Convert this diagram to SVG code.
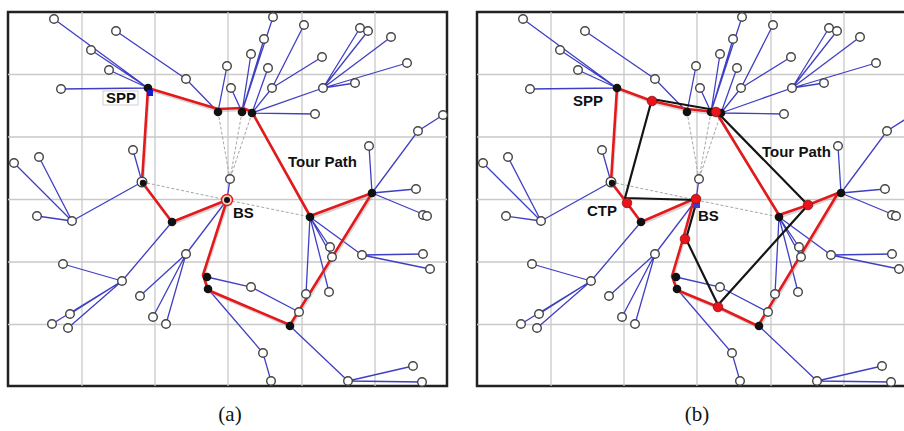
<svg xmlns="http://www.w3.org/2000/svg" xmlns:xlink="http://www.w3.org/1999/xlink" width="904" height="431" viewBox="0 0 904 431">
<style>
.f{fill:#fff;stroke:#222;stroke-width:2.5}
.g{stroke:#c9c9c9;stroke-width:1.3;fill:none}
.e{stroke:#3f3fc4;stroke-width:1.3;fill:none}
.d{stroke:#a6a6a6;stroke-width:1;stroke-dasharray:3 2;fill:none}
.sh{stroke:#9a9a9a;stroke-width:2.4;fill:none;opacity:.4;stroke-linejoin:round}
.r{stroke:#e3191b;stroke-width:2.6;fill:none;stroke-linejoin:round}
.k{stroke:#141414;stroke-width:2.2;fill:none;stroke-linejoin:round}
.s{fill:#fff;stroke:#444;stroke-width:1.4}
.h{fill:#111}
.rd{fill:#e8131b;stroke:#8a1010;stroke-width:.8}
.t{font-family:"Liberation Sans",Arial,sans-serif;font-weight:bold;font-size:15px;fill:#111}
.cap{font-family:"Liberation Serif","Times New Roman",serif;font-size:21px;fill:#111;text-anchor:middle}
</style>
<rect width="904" height="431" fill="#fff"/>

<!-- ================= PANEL A ================= -->
<g id="panel-a">
<rect class="f" x="8" y="12" width="439" height="374"/>
<path class="g" d="M82 12V386M155 12V386M228 12V386M302 12V386M375 12V386M8 74.5H447M8 137H447M8 199.5H447M8 262H447M8 324.5H447"/>
<g id="a-links">
<path class="d" d="M218 112L230 179M242 112L230 179M252 113L230 179M142 182L227 200M227 200L310 217"/>
<path class="e" d="M54 19L148 88M91 50L148 88M109 70L148 88M61 89L148 88M116 31L186 79L218 112M227 66L218 112M273 17L242 112M264 39L242 112M251 54L242 112M231 88L242 112M304 25L272 88M322 57L272 88M272 88L252 113M268 68L252 113M360 28L323 88M368 31L323 88M391 37L323 88M407 63L323 88M355 83L323 88M323 88L252 113M315 114L252 113M443 115L418 131L372 193M369 146L372 193M416 189L372 193M372 193L425 215M133 150L142 182M14 163L72 221M39 157L72 221M37 216L72 221M72 221L142 182M63 264L122 281M122 281L172 222M70 314L122 281M52 324L122 281M68 328L122 281M140 296L186 254M153 317L186 254M166 324L186 254M186 254L227 200M230 179L227 200M310 217L330 247M310 217L332 257M310 217L329 292M310 217L306 294M310 217L362 255M362 255L423 254M362 255L430 269M207 277L251 287L299 312M208 289L263 353L271 381M290 326L348 381M348 381L413 366M348 381L422 382"/>
<path class="sh" d="M149 90L219 111L244 110L253 114L311 218L373 195L291 327L209 292L204 276L228 202L173 224L143 184Z"/>
<path class="r" d="M148 88L218 109L243 108L252 112L310 216L372 193L290 325L208 290L203 275L227 200L172 222L142 182Z"/>
</g>
<g id="a-nodes">
<g id="a-s1"><circle class="s" cx="54" cy="19" r="4.3"/></g>
<g id="a-s2"><circle class="s" cx="116" cy="31" r="4.3"/></g>
<g id="a-s3"><circle class="s" cx="91" cy="50" r="4.3"/></g>
<g id="a-s4"><circle class="s" cx="109" cy="70" r="4.3"/></g>
<g id="a-s5"><circle class="s" cx="61" cy="89" r="4.3"/></g>
<g id="a-s6"><circle class="s" cx="186" cy="79" r="4.3"/></g>
<g id="a-s7"><circle class="s" cx="133" cy="150" r="4.3"/></g>
<g id="a-s8"><circle class="s" cx="14" cy="163" r="4.3"/></g>
<g id="a-s9"><circle class="s" cx="39" cy="157" r="4.3"/></g>
<g id="a-s10"><circle class="s" cx="37" cy="216" r="4.3"/></g>
<g id="a-s11"><circle class="s" cx="72" cy="221" r="4.3"/></g>
<g id="a-s12"><circle class="s" cx="63" cy="264" r="4.3"/></g>
<g id="a-s13"><circle class="s" cx="122" cy="281" r="4.3"/></g>
<g id="a-s14"><circle class="s" cx="70" cy="314" r="4.3"/></g>
<g id="a-s15"><circle class="s" cx="52" cy="324" r="4.3"/></g>
<g id="a-s16"><circle class="s" cx="68" cy="328" r="4.3"/></g>
<g id="a-s17"><circle class="s" cx="140" cy="296" r="4.3"/></g>
<g id="a-s18"><circle class="s" cx="186" cy="254" r="4.3"/></g>
<g id="a-s19"><circle class="s" cx="153" cy="317" r="4.3"/></g>
<g id="a-s20"><circle class="s" cx="166" cy="324" r="4.3"/></g>
<g id="a-s21"><circle class="s" cx="273" cy="17" r="4.3"/></g>
<g id="a-s22"><circle class="s" cx="304" cy="25" r="4.3"/></g>
<g id="a-s23"><circle class="s" cx="360" cy="28" r="4.3"/></g>
<g id="a-s24"><circle class="s" cx="368" cy="31" r="4.3"/></g>
<g id="a-s25"><circle class="s" cx="391" cy="37" r="4.3"/></g>
<g id="a-s26"><circle class="s" cx="264" cy="39" r="4.3"/></g>
<g id="a-s27"><circle class="s" cx="251" cy="54" r="4.3"/></g>
<g id="a-s28"><circle class="s" cx="322" cy="57" r="4.3"/></g>
<g id="a-s29"><circle class="s" cx="268" cy="68" r="4.3"/></g>
<g id="a-s30"><circle class="s" cx="227" cy="66" r="4.3"/></g>
<g id="a-s31"><circle class="s" cx="407" cy="63" r="4.3"/></g>
<g id="a-s32"><circle class="s" cx="231" cy="88" r="4.3"/></g>
<g id="a-s33"><circle class="s" cx="272" cy="88" r="4.3"/></g>
<g id="a-s34"><circle class="s" cx="323" cy="88" r="4.3"/></g>
<g id="a-s35"><circle class="s" cx="355" cy="83" r="4.3"/></g>
<g id="a-s36"><circle class="s" cx="315" cy="114" r="4.3"/></g>
<g id="a-s37"><circle class="s" cx="443" cy="115" r="4.3"/></g>
<g id="a-s38"><circle class="s" cx="418" cy="131" r="4.3"/></g>
<g id="a-s39"><circle class="s" cx="369" cy="146" r="4.3"/></g>
<g id="a-s40"><circle class="s" cx="416" cy="189" r="4.3"/></g>
<g id="a-s41"><circle class="s" cx="230" cy="179" r="4.3"/></g>
<g id="a-s42"><circle class="s" cx="423" cy="215" r="4.3"/></g>
<g id="a-s43"><circle class="s" cx="427" cy="216" r="4.3"/></g>
<g id="a-s44"><circle class="s" cx="330" cy="247" r="4.3"/></g>
<g id="a-s45"><circle class="s" cx="332" cy="257" r="4.3"/></g>
<g id="a-s46"><circle class="s" cx="362" cy="255" r="4.3"/></g>
<g id="a-s47"><circle class="s" cx="423" cy="254" r="4.3"/></g>
<g id="a-s48"><circle class="s" cx="430" cy="269" r="4.3"/></g>
<g id="a-s49"><circle class="s" cx="251" cy="287" r="4.3"/></g>
<g id="a-s50"><circle class="s" cx="306" cy="294" r="4.3"/></g>
<g id="a-s51"><circle class="s" cx="329" cy="292" r="4.3"/></g>
<g id="a-s52"><circle class="s" cx="299" cy="312" r="4.3"/></g>
<g id="a-s53"><circle class="s" cx="263" cy="353" r="4.3"/></g>
<g id="a-s54"><circle class="s" cx="271" cy="381" r="4.3"/></g>
<g id="a-s55"><circle class="s" cx="348" cy="381" r="4.3"/></g>
<g id="a-s56"><circle class="s" cx="413" cy="366" r="4.3"/></g>
<g id="a-s57"><circle class="s" cx="422" cy="382" r="4.3"/></g>
<g id="a-spp"><circle class="h" cx="148" cy="88" r="4.3"/><rect x="147" y="90" width="6" height="6" fill="#1a1ad0"/></g>
<g id="a-h1"><circle class="h" cx="218" cy="112" r="4.3"/></g>
<g id="a-h2"><circle class="h" cx="242" cy="112" r="4.3"/></g>
<g id="a-h3"><circle class="h" cx="252" cy="113" r="4.3"/></g>
<g id="a-ch"><circle class="s" cx="142" cy="182" r="4.8"/><circle class="h" cx="143" cy="183" r="3.2"/></g>
<g id="a-bs"><circle cx="227" cy="200" r="5.5" fill="#f4d0c8" stroke="#e3191b" stroke-width="1.4"/><circle class="h" cx="227" cy="200" r="3"/></g>
<g id="a-h4"><circle class="h" cx="172" cy="222" r="4.3"/></g>
<g id="a-h5"><circle class="h" cx="310" cy="217" r="4.3"/></g>
<g id="a-h6"><circle class="h" cx="372" cy="193" r="4.3"/></g>
<g id="a-h7"><circle class="h" cx="207" cy="277" r="4.3"/></g>
<g id="a-h8"><circle class="h" cx="208" cy="289" r="4.3"/></g>
<g id="a-h9"><circle class="h" cx="290" cy="326" r="4.3"/></g>
</g>
<g id="a-labels">
<rect x="103" y="91" width="35" height="14" fill="#fff" stroke="#d0d0d0" stroke-width="1"/>
<text class="t" x="106" y="103">SPP</text>
<text class="t" x="288" y="167">Tour Path</text>
<text class="t" x="233" y="218">BS</text>
</g>
</g>

<!-- ================= PANEL B ================= -->
<g id="panel-b" transform="translate(469 0)">
<rect class="f" x="8" y="12" width="439" height="374"/>
<path class="g" d="M82 12V386M155 12V386M228 12V386M302 12V386M375 12V386M8 74.5H447M8 137H447M8 199.5H447M8 262H447M8 324.5H447"/>
<g id="b-links">
<path class="d" d="M218 112L230 179M242 112L230 179M252 113L230 179M142 182L227 200M227 200L310 217"/>
<path class="e" d="M54 19L148 88M91 50L148 88M109 70L148 88M61 89L148 88M116 31L186 79L218 112M227 66L218 112M273 17L242 112M264 39L242 112M251 54L242 112M231 88L242 112M304 25L272 88M322 57L272 88M272 88L252 113M268 68L252 113M360 28L323 88M368 31L323 88M391 37L323 88M407 63L323 88M355 83L323 88M323 88L252 113M315 114L252 113M443 115L418 131L372 193M369 146L372 193M416 189L372 193M372 193L425 215M133 150L142 182M14 163L72 221M39 157L72 221M37 216L72 221M72 221L142 182M63 264L122 281M122 281L172 222M70 314L122 281M52 324L122 281M68 328L122 281M140 296L186 254M153 317L186 254M166 324L186 254M186 254L227 200M230 179L227 200M310 217L330 247M310 217L332 257M310 217L329 292M310 217L306 294M310 217L362 255M362 255L423 254M362 255L430 269M207 277L251 287L299 312M208 289L263 353L271 381M290 326L348 381M348 381L413 366M348 381L422 382"/>
<path class="sh" d="M149 90L184 103L219 111L248 114L311 217L340 207L370 195L290 328L250 309L209 292L204 278L215 241L227 201L173 224L159 205L143 184Z"/>
<path class="r" d="M148 88L183 101L218 109L247 112L310 215L339 205L369 193L289 326L249 307L208 290L203 276L214 239L225 199L172 222L158 203L142 182Z"/>
<path class="k" d="M183 99L246 110L339 205L249 305L217 239L228 200L156 198Z"/>
</g>
<g id="b-nodes">
<g id="b-s1"><circle class="s" cx="54" cy="19" r="4.3"/></g>
<g id="b-s2"><circle class="s" cx="116" cy="31" r="4.3"/></g>
<g id="b-s3"><circle class="s" cx="91" cy="50" r="4.3"/></g>
<g id="b-s4"><circle class="s" cx="109" cy="70" r="4.3"/></g>
<g id="b-s5"><circle class="s" cx="61" cy="89" r="4.3"/></g>
<g id="b-s6"><circle class="s" cx="186" cy="79" r="4.3"/></g>
<g id="b-s7"><circle class="s" cx="133" cy="150" r="4.3"/></g>
<g id="b-s8"><circle class="s" cx="14" cy="163" r="4.3"/></g>
<g id="b-s9"><circle class="s" cx="39" cy="157" r="4.3"/></g>
<g id="b-s10"><circle class="s" cx="37" cy="216" r="4.3"/></g>
<g id="b-s11"><circle class="s" cx="72" cy="221" r="4.3"/></g>
<g id="b-s12"><circle class="s" cx="63" cy="264" r="4.3"/></g>
<g id="b-s13"><circle class="s" cx="122" cy="281" r="4.3"/></g>
<g id="b-s14"><circle class="s" cx="70" cy="314" r="4.3"/></g>
<g id="b-s15"><circle class="s" cx="52" cy="324" r="4.3"/></g>
<g id="b-s16"><circle class="s" cx="68" cy="328" r="4.3"/></g>
<g id="b-s17"><circle class="s" cx="140" cy="296" r="4.3"/></g>
<g id="b-s18"><circle class="s" cx="186" cy="254" r="4.3"/></g>
<g id="b-s19"><circle class="s" cx="153" cy="317" r="4.3"/></g>
<g id="b-s20"><circle class="s" cx="166" cy="324" r="4.3"/></g>
<g id="b-s21"><circle class="s" cx="273" cy="17" r="4.3"/></g>
<g id="b-s22"><circle class="s" cx="304" cy="25" r="4.3"/></g>
<g id="b-s23"><circle class="s" cx="360" cy="28" r="4.3"/></g>
<g id="b-s24"><circle class="s" cx="368" cy="31" r="4.3"/></g>
<g id="b-s25"><circle class="s" cx="391" cy="37" r="4.3"/></g>
<g id="b-s26"><circle class="s" cx="264" cy="39" r="4.3"/></g>
<g id="b-s27"><circle class="s" cx="251" cy="54" r="4.3"/></g>
<g id="b-s28"><circle class="s" cx="322" cy="57" r="4.3"/></g>
<g id="b-s29"><circle class="s" cx="268" cy="68" r="4.3"/></g>
<g id="b-s30"><circle class="s" cx="227" cy="66" r="4.3"/></g>
<g id="b-s31"><circle class="s" cx="407" cy="63" r="4.3"/></g>
<g id="b-s32"><circle class="s" cx="231" cy="88" r="4.3"/></g>
<g id="b-s33"><circle class="s" cx="272" cy="88" r="4.3"/></g>
<g id="b-s34"><circle class="s" cx="323" cy="88" r="4.3"/></g>
<g id="b-s35"><circle class="s" cx="355" cy="83" r="4.3"/></g>
<g id="b-s36"><circle class="s" cx="315" cy="114" r="4.3"/></g>
<g id="b-s37"><circle class="s" cx="443" cy="115" r="4.3"/></g>
<g id="b-s38"><circle class="s" cx="418" cy="131" r="4.3"/></g>
<g id="b-s39"><circle class="s" cx="369" cy="146" r="4.3"/></g>
<g id="b-s40"><circle class="s" cx="416" cy="189" r="4.3"/></g>
<g id="b-s41"><circle class="s" cx="230" cy="179" r="4.3"/></g>
<g id="b-s42"><circle class="s" cx="423" cy="215" r="4.3"/></g>
<g id="b-s43"><circle class="s" cx="427" cy="216" r="4.3"/></g>
<g id="b-s44"><circle class="s" cx="330" cy="247" r="4.3"/></g>
<g id="b-s45"><circle class="s" cx="332" cy="257" r="4.3"/></g>
<g id="b-s46"><circle class="s" cx="362" cy="255" r="4.3"/></g>
<g id="b-s47"><circle class="s" cx="423" cy="254" r="4.3"/></g>
<g id="b-s48"><circle class="s" cx="430" cy="269" r="4.3"/></g>
<g id="b-s49"><circle class="s" cx="251" cy="287" r="4.3"/></g>
<g id="b-s50"><circle class="s" cx="306" cy="294" r="4.3"/></g>
<g id="b-s51"><circle class="s" cx="329" cy="292" r="4.3"/></g>
<g id="b-s52"><circle class="s" cx="299" cy="312" r="4.3"/></g>
<g id="b-s53"><circle class="s" cx="263" cy="353" r="4.3"/></g>
<g id="b-s54"><circle class="s" cx="271" cy="381" r="4.3"/></g>
<g id="b-s55"><circle class="s" cx="348" cy="381" r="4.3"/></g>
<g id="b-s56"><circle class="s" cx="413" cy="366" r="4.3"/></g>
<g id="b-s57"><circle class="s" cx="422" cy="382" r="4.3"/></g>
<g id="b-spp"><circle class="h" cx="148" cy="88" r="4.3"/></g>
<g id="b-h1"><circle class="h" cx="218" cy="112" r="4.3"/></g>
<g id="b-h2"><circle class="h" cx="242" cy="112" r="4.3"/></g>
<g id="b-h3"><circle class="h" cx="252" cy="113" r="4.3"/></g>
<g id="b-ch"><circle class="s" cx="142" cy="182" r="4.8"/><circle class="h" cx="143" cy="183" r="3.2"/></g>
<g id="b-h4"><circle class="h" cx="172" cy="222" r="4.3"/></g>
<g id="b-h5"><circle class="h" cx="310" cy="217" r="4.3"/></g>
<g id="b-h6"><circle class="h" cx="372" cy="193" r="4.3"/></g>
<g id="b-h7"><circle class="h" cx="207" cy="277" r="4.3"/></g>
<g id="b-h8"><circle class="h" cx="208" cy="289" r="4.3"/></g>
<g id="b-h9"><circle class="h" cx="290" cy="326" r="4.3"/></g>
<g id="b-bs"><rect x="224" y="201" width="7" height="7" fill="#3a3ad0"/><circle class="rd" cx="227" cy="199" r="4.8"/></g>
<g id="b-p1"><circle class="rd" cx="183" cy="101" r="4.8"/></g>
<g id="b-p2"><circle class="rd" cx="247" cy="112" r="4.8"/></g>
<g id="b-ctp"><circle class="rd" cx="158" cy="203" r="4.8"/></g>
<g id="b-p3"><circle class="rd" cx="216" cy="239" r="4.8"/></g>
<g id="b-p4"><circle class="rd" cx="249" cy="307" r="4.8"/></g>
<g id="b-p5"><circle class="rd" cx="339" cy="205" r="4.8"/></g>
</g>
<g id="b-labels">
<text class="t" x="104" y="106">SPP</text>
<text class="t" x="293" y="157">Tour Path</text>
<text class="t" x="229" y="221">BS</text>
<text class="t" x="118" y="216">CTP</text>
</g>
</g>

<text class="cap" x="230" y="421">(a)</text>
<text class="cap" x="697" y="421">(b)</text>
</svg>
